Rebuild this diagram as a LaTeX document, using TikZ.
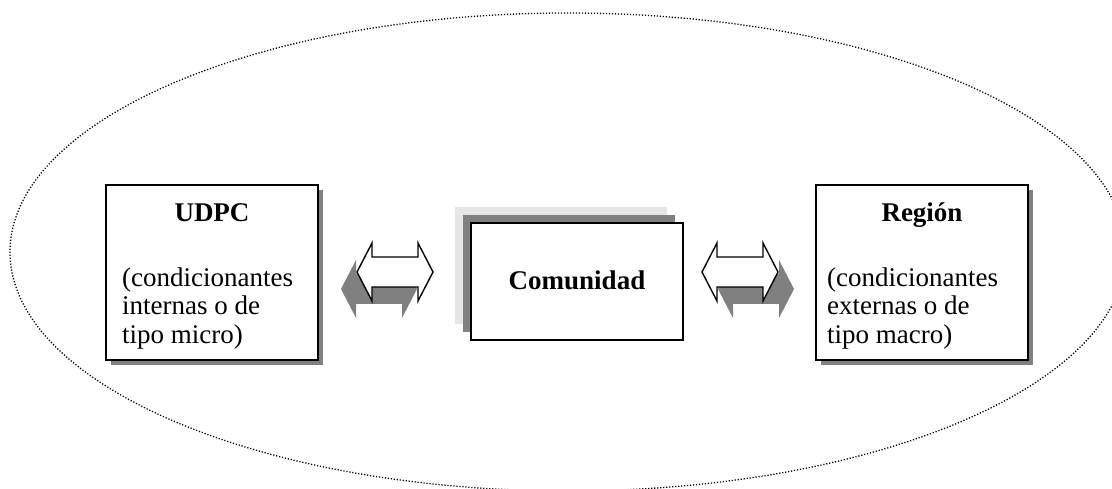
\documentclass[tikz,border=0pt]{standalone}
\usepackage{fontspec}
\setmainfont{Liberation Serif}
\begin{document}
\begin{tikzpicture}[x=1pt,y=-1pt,
  box/.style={draw=black, line width=2pt, fill=white, inner sep=0pt},
  boxshadow/.style={fill=black!50, draw=none},
  body/.style={font=\fontsize{27}{28.5}\selectfont, align=left, inner sep=0pt},
  title/.style={font=\fontsize{27}{29}\selectfont\bfseries, inner sep=0pt},
  arrowfront/.style={draw=black, line width=1.4pt, fill=white, line join=miter},
  arrowback/.style={fill=black!50, draw=none},
  pics/dblarrow/.style={code={
    \path[#1] (-38,0) -- (-23,-29) -- (-23,-15) -- (23,-15) -- (23,-29) -- (38,0)
      -- (23,29) -- (23,15) -- (-23,15) -- (-23,29) -- cycle;}}]
\useasboundingbox (0,0) rectangle (1112,489);

% surrounding dotted ellipse
\begin{scope}
  \clip (0,0) rectangle (1112,489);
  \draw[line width=1.3pt, dash pattern=on 1.2pt off 1.8pt] (568,252) ellipse [x radius=558, y radius=239];
\end{scope}

% UDPC box
\fill[boxshadow] (111,190) rectangle (323,365);
\node[box, minimum width=212pt, minimum height=175pt] (udpc) at (212,272.5) {};
\node[title, anchor=base] (udpct) at (212,222) {UDPC};
\node[body, anchor=base west] (udpcb) at (122,343)
  {(condicionantes\\internas o de\\tipo micro)};

% Comunidad box with stacked shadows
\fill[black!10] (455,207) rectangle (667,324);
\fill[black!50] (463,215) rectangle (675,332);
\node[box, minimum width=212pt, minimum height=117pt] (com) at (577,281.5) {};
\node[title, anchor=base] (comt) at (577,290) {Comunidad};

% Region box
\fill[boxshadow] (821,190) rectangle (1033,365);
\node[box, minimum width=212pt, minimum height=175pt] (reg) at (922,272.5) {};
\node[title, anchor=base] (regt) at (922,222) {Región};
\node[body, anchor=base west] (regb) at (827,343)
  {(condicionantes\\externas o de\\tipo macro)};

% two-way block arrows between the boxes
\coordinate (a1) at (395,272);
\coordinate (a2) at (740,272);
\pic at ([shift={(-16,17)}]a1) {dblarrow=arrowback};
\pic at (a1) {dblarrow=arrowfront};
\pic at ([shift={(16,17)}]a2) {dblarrow=arrowback};
\pic at (a2) {dblarrow=arrowfront};
\end{tikzpicture}
\end{document}
